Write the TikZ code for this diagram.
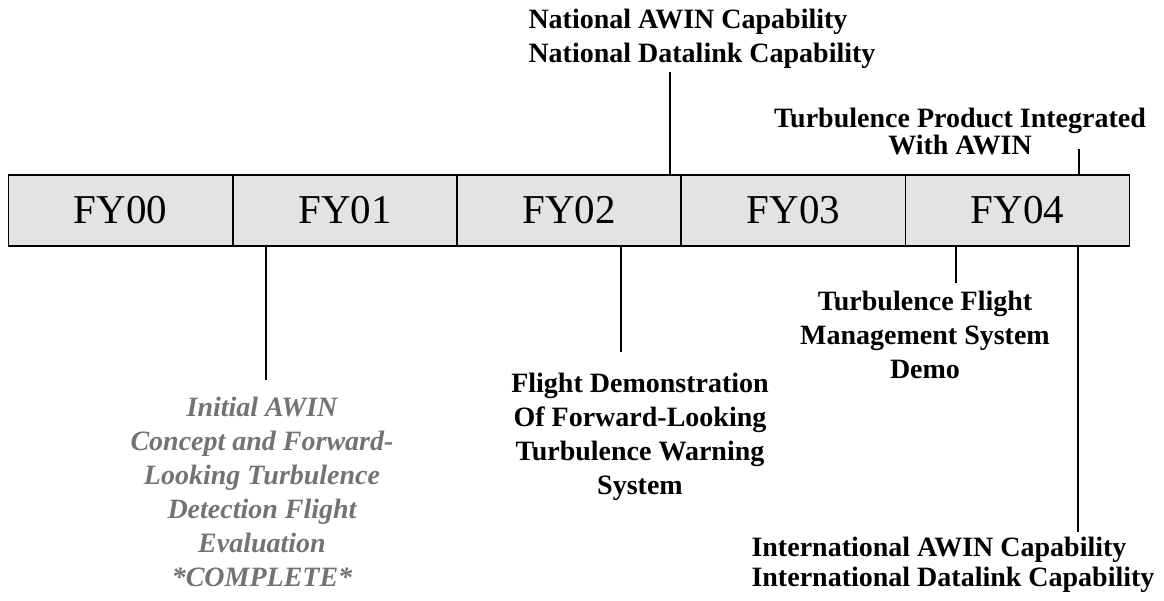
\documentclass[tikz,border=0pt]{standalone}
\usepackage{fontspec}
\setmainfont{Liberation Serif}
\begin{document}
\begin{tikzpicture}[x=1pt,y=-1pt,
  yearbox/.style={draw=black,line width=1.6pt,fill=black!11,minimum width=224pt,
    minimum height=71pt,inner sep=0pt,font=\fontsize{41}{41}\selectfont},
  mlabel/.style={inner sep=0pt,align=center,font=\fontsize{28}{34}\selectfont\bfseries},
  glabel/.style={inner sep=0pt,align=center,text=black!55,
    font=\fontsize{28}{34}\selectfont\bfseries\itshape},
  tick/.style={line width=1.6pt}]
\useasboundingbox (0,0) rectangle (1164,600);

% fiscal-year bar
\node[yearbox] (fy00) at (120.5,210.5) {FY00};
\node[yearbox] (fy01) at (345,210.5) {FY01};
\node[yearbox] (fy02) at (569,210.5) {FY02};
\node[yearbox] (fy03) at (793.5,210.5) {FY03};
\node[yearbox] (fy04) at (1017.5,210.5) {FY04};

% milestones above the bar
\node[mlabel,align=left] (natl) at (702,39) {National AWIN Capability\\National Datalink Capability};
\node[mlabel,font=\fontsize{28}{27}\selectfont\bfseries] (tpi) at (960,131) {Turbulence Product Integrated\\With AWIN};

% milestones below the bar
\node[glabel] (init) at (262,492) {Initial AWIN\\Concept and Forward-\\Looking Turbulence\\Detection Flight\\Evaluation\\*COMPLETE*};
\node[mlabel] (fdem) at (640,437) {Flight Demonstration\\Of Forward-Looking\\Turbulence Warning\\System};
\node[mlabel] (tfms) at (925,335) {Turbulence Flight\\Management System\\Demo};
\node[mlabel,align=left,font=\fontsize{28}{30}\selectfont\bfseries] (intl) at (953,565) {International AWIN Capability\\International Datalink Capability};

% tick lines
\coordinate (a1) at (670,175);  \coordinate (a2) at (670,72);
\coordinate (b1) at (1079,175); \coordinate (b2) at (1079,149);
\coordinate (c1) at (266,246);  \coordinate (c2) at (266,380);
\coordinate (d1) at (621,246);  \coordinate (d2) at (621,352);
\coordinate (e1) at (956,246);  \coordinate (e2) at (956,283);
\coordinate (f1) at (1078,246); \coordinate (f2) at (1078,532);
\draw[tick] (a1) -- (a2);
\draw[tick] (b1) -- (b2);
\draw[tick] (c1) -- (c2);
\draw[tick] (d1) -- (d2);
\draw[tick] (e1) -- (e2);
\draw[tick] (f1) -- (f2);
\end{tikzpicture}
\end{document}
